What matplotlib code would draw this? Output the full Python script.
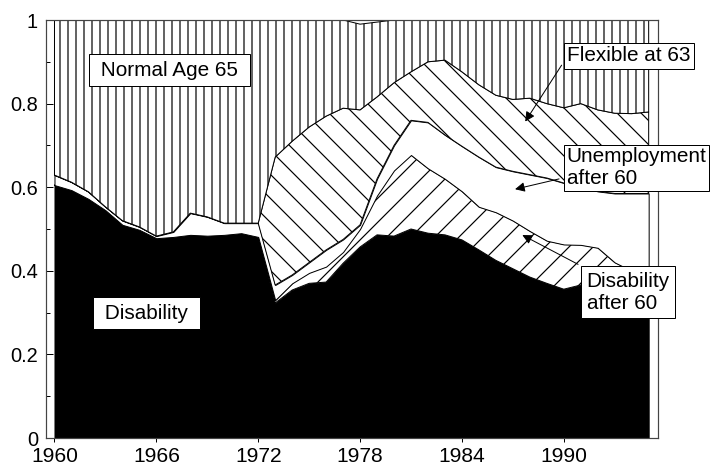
import numpy as np
import matplotlib.pyplot as plt

plt.rcParams['font.family'] = ['Liberation Sans', 'DejaVu Sans']
plt.rcParams['hatch.linewidth'] = 0.6

# shares of exits by pathway, 1960-1995
years = np.arange(1960, 1996)
disability = [0.605, 0.593, 0.572, 0.545, 0.510, 0.498, 0.478, 0.481, 0.486, 0.484,
              0.486, 0.490, 0.481, 0.323, 0.354, 0.370, 0.373, 0.418, 0.457, 0.486,
              0.483, 0.500, 0.490, 0.486, 0.474, 0.450, 0.425, 0.405, 0.385, 0.370,
              0.356, 0.366, 0.350, 0.340, 0.335, 0.330]
disability_60 = [0, 0, 0, 0, 0, 0, 0, 0, 0, 0,
                 0, 0, 0, 0.007, 0.016, 0.025, 0.037, 0.027, 0.043, 0.094,
                 0.157, 0.177, 0.155, 0.134, 0.116, 0.103, 0.115, 0.115, 0.110, 0.102,
                 0.107, 0.096, 0.105, 0.080, 0.065, 0.050]
unemployment_60 = [0.024, 0.019, 0.017, 0.008, 0.010, 0.007, 0.005, 0.012, 0.052, 0.045,
                   0.028, 0.024, 0.033, 0.036, 0.020, 0.025, 0.040, 0.030, 0.010, 0.040,
                   0.060, 0.083, 0.110, 0.105, 0.108, 0.119, 0.108, 0.118, 0.135, 0.150,
                   0.147, 0.138, 0.135, 0.165, 0.185, 0.205]
flexible_63 = [0, 0, 0, 0, 0, 0, 0, 0, 0, 0,
               0, 0, 0, 0.306, 0.320, 0.324, 0.320, 0.314, 0.275, 0.196,
               0.150, 0.116, 0.145, 0.179, 0.178, 0.173, 0.172, 0.172, 0.183, 0.178,
               0.180, 0.200, 0.195, 0.192, 0.191, 0.195]
normal_65 = [0.371, 0.388, 0.411, 0.447, 0.480, 0.495, 0.517, 0.507, 0.462, 0.471,
             0.486, 0.486, 0.486, 0.328, 0.290, 0.256, 0.230, 0.211, 0.205, 0.179,
             0.150, 0.124, 0.100, 0.096, 0.124, 0.155, 0.180, 0.190, 0.187, 0.200,
             0.210, 0.200, 0.215, 0.223, 0.224, 0.220]

y_ticks = [0, 0.2, 0.4, 0.6, 0.8, 1.0]
y_labels = ['0', '0.2', '0.4', '0.6', '0.8', '1']
x_ticks = [1960, 1966, 1972, 1978, 1984, 1990]

fig = plt.figure(figsize=(710 / 144, 468 / 144), dpi=144)
ax = fig.add_axes([46 / 710, 30 / 468, 612 / 710, 418 / 468])

layers = [(disability, 'black', None),
          (disability_60, 'white', '//'),
          (unemployment_60, 'white', None),
          (flexible_63, 'white', '\\\\'),
          (normal_65, 'white', '|||')]
bottom = np.zeros(len(years))
for vals, fc, h in layers:
    top = bottom + np.array(vals)
    ax.fill_between(years, bottom, top, facecolor=fc, edgecolor='black',
                    hatch=h, linewidth=0.5)
    bottom = top

ax.set_xlim(1959.5, 1995.55)
ax.set_ylim(0, 1)
ax.set_xticks(x_ticks)
ax.set_yticks(y_ticks)
ax.set_yticklabels(y_labels)
ax.set_yticks(np.arange(0.1, 1.0, 0.2), minor=True)
ax.tick_params(axis='y', which='major', direction='in', length=3.5, width=0.5, pad=4, labelsize=10)
ax.tick_params(axis='y', which='minor', direction='in', length=2, width=0.5)
ax.tick_params(axis='x', direction='out', length=2, width=0.5, pad=2.5, labelsize=10.5)
for s in ax.spines.values():
    s.set_linewidth(0.6)
    s.set_color('#444444')


def box(pad):
    return dict(boxstyle='square,pad=%s' % pad, fc='white', ec='black', lw=0.5)


# arrows from the labels
arrow = dict(arrowstyle='-|>', color='black', lw=0.5, mutation_scale=10)
ax.annotate('', xy=(1987.6, 0.749), xytext=(1990.0, 0.90), arrowprops=arrow)
ax.annotate('', xy=(1986.9, 0.593), xytext=(1989.95, 0.622), arrowprops=arrow)
ax.annotate('', xy=(1987.35, 0.490), xytext=(1991.05, 0.411), arrowprops=arrow)

fs = 10.4
ax.text(1966.78, 0.880, ' Normal Age 65 ', ha='center', va='center', fontsize=fs,
        bbox=box(0.3), zorder=5)
ax.text(1965.42, 0.299, ' Disability ', ha='center', va='center', fontsize=fs,
        bbox=box(0.3), zorder=5)
ax.text(1990.2, 0.914, 'Flexible at 63', ha='left', va='center', fontsize=fs,
        bbox=box(0.15), zorder=5, clip_on=False)
ax.text(1990.17, 0.646, 'Unemployment\nafter 60', ha='left', va='center', fontsize=fs,
        bbox=box(0.12), zorder=5, clip_on=False, linespacing=1.2)
ax.text(1991.35, 0.349, 'Disability\nafter 60', ha='left', va='center', fontsize=fs,
        bbox=box(0.25), zorder=5, clip_on=False, linespacing=1.2)

fig.savefig('out.png', dpi=144)
